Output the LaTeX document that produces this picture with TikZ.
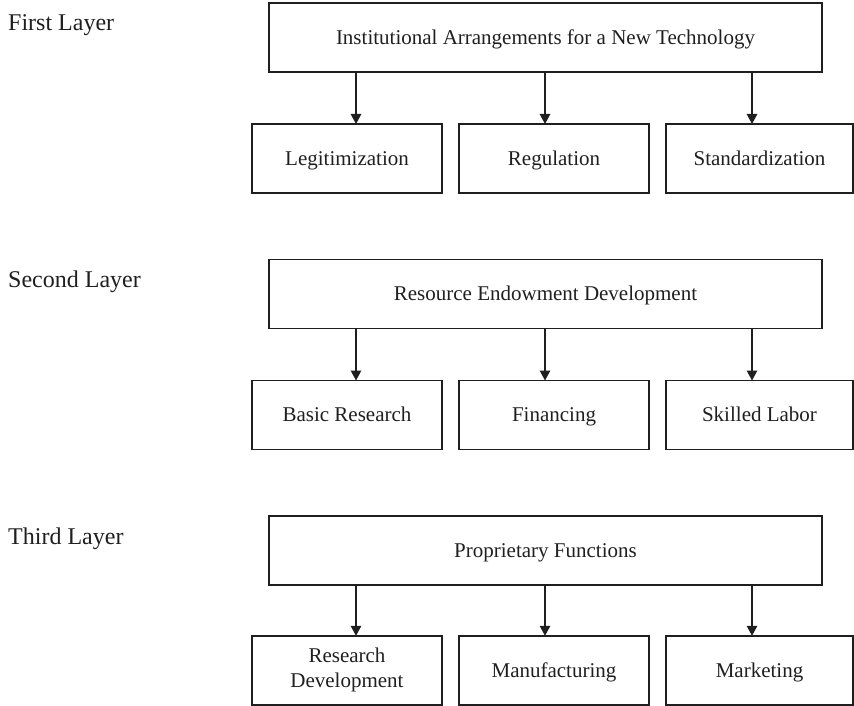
\documentclass[tikz,border=0pt]{standalone}
\usepackage{fontspec}
\setmainfont{Liberation Serif}
\usetikzlibrary{arrows.meta}
\begin{document}
\begin{tikzpicture}[x=1pt,y=-1pt,
  boxtext/.style={font=\fontsize{21}{25}\selectfont, text=black!88},
  framed/.style={draw=black!88, line width=1.8pt, minimum height=69pt,
    inner sep=0pt, boxtext},
  oneline/.style={text height=17pt, text depth=3.5pt},
  headbox/.style={framed, oneline, minimum width=553pt},
  subbox/.style={framed, oneline},
  twoline/.style={framed, align=center},
  layerlabel/.style={anchor=base west, inner sep=0pt,
    font=\fontsize{24}{28}\selectfont, text=black!88},
  arr/.style={draw=black!88, line width=1.3pt,
    -{Triangle[width=10.5pt,length=10pt]}}]
\useasboundingbox (0,0) rectangle (854,706);

% ---- first layer ----
\node[layerlabel] (lab1) at (8,31) {First Layer};
\node[headbox] (h1) at (545.5,37.5) {Institutional Arrangements for a New Technology};
\node[subbox, minimum width=190pt] (s11) at (347,158.5) {Legitimization};
\node[subbox, minimum width=190pt] (s12) at (554,158.5) {Regulation};
\node[subbox, minimum width=187pt] (s13) at (759.5,158.5) {Standardization};
\coordinate (t11) at (356,124);
\coordinate (t12) at (545,124);
\coordinate (t13) at (752,124);
\foreach \t in {t11,t12,t13} \draw[arr] (h1.south -| \t) -- (\t);

% ---- second layer ----
\node[layerlabel] (lab2) at (8,287.5) {Second Layer};
\node[headbox] (h2) at (545.5,294) {Resource Endowment Development};
\node[subbox, minimum width=190pt] (s21) at (347,415) {Basic Research};
\node[subbox, minimum width=190pt] (s22) at (554,415) {Financing};
\node[subbox, minimum width=187pt] (s23) at (759.5,415) {Skilled Labor};
\coordinate (t21) at (356,380.5);
\coordinate (t22) at (545,380.5);
\coordinate (t23) at (752,380.5);
\foreach \t in {t21,t22,t23} \draw[arr] (h2.south -| \t) -- (\t);

% ---- third layer ----
\node[layerlabel] (lab3) at (8,544) {Third Layer};
\node[headbox] (h3) at (545.5,550.5) {Proprietary Functions};
\node[twoline, minimum width=190pt] (s31) at (347,670.3) {Research\\Development};
\node[subbox, minimum width=190pt] (s32) at (554,670.3) {Manufacturing};
\node[subbox, minimum width=187pt] (s33) at (759.5,670.3) {Marketing};
\coordinate (t31) at (356,635.8);
\coordinate (t32) at (545,635.8);
\coordinate (t33) at (752,635.8);
\foreach \t in {t31,t32,t33} \draw[arr] (h3.south -| \t) -- (\t);
\end{tikzpicture}
\end{document}
